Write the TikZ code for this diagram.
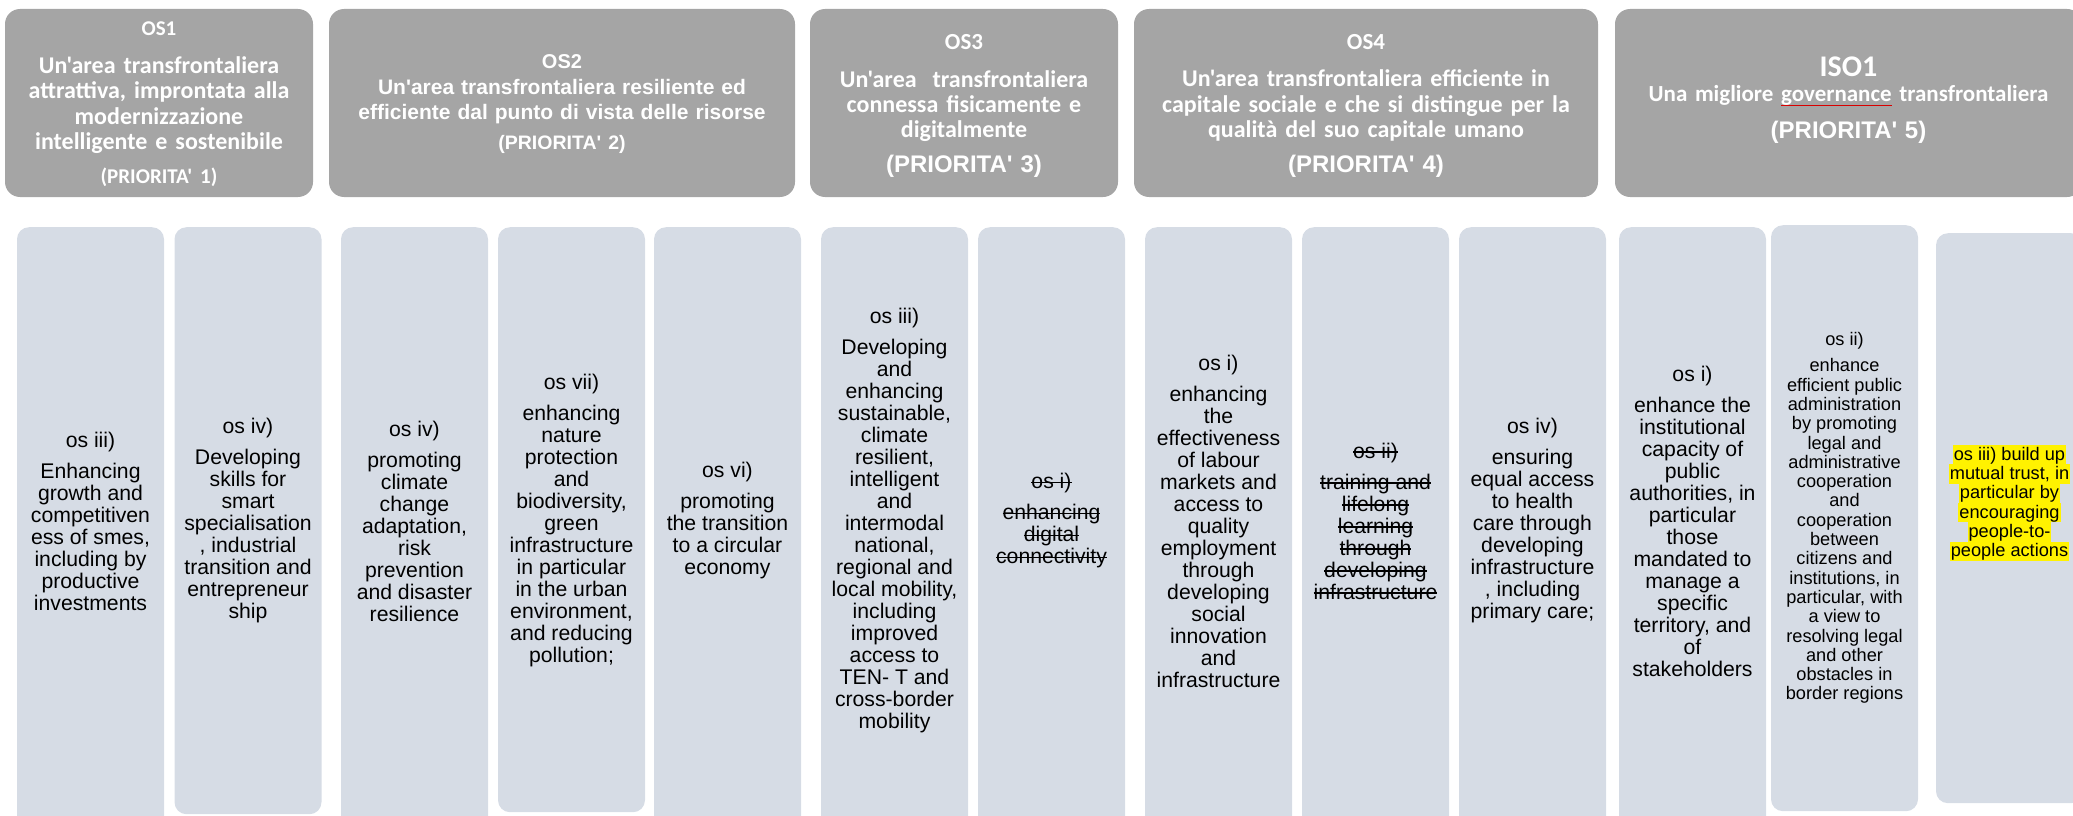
\documentclass[tikz,border=0pt]{standalone}
\usepackage{fontspec}
\setmainfont{Liberation Sans}
\newfontfamily\carlito{Carlito}
\newfontfamily\arialfont{Liberation Sans}

\definecolor{priogray}{HTML}{A5A5A5}
\definecolor{osblue}{HTML}{D6DCE5}

\newsavebox{\markbox}
\newcommand{\crossout}[1]{\sbox{\markbox}{#1}\rlap{\rule[0.26em]{\wd\markbox}{1.2pt}}\usebox{\markbox}}
\newcommand{\spellmark}[1]{\sbox{\markbox}{#1}\rlap{\textcolor{red!85!black}{\rule[-4pt]{\wd\markbox}{0.8pt}}}\usebox{\markbox}}
\newcommand{\yellowline}[1]{{\setlength{\fboxsep}{0pt}\colorbox{yellow}{\rule[-4.3pt]{0pt}{19.3pt}\kern1pt #1\kern1pt}}}

\begin{document}
\begin{tikzpicture}[x=1pt, y=-1pt, every node/.style={align=center}]

% styles
\tikzset{
  priobox/.style={rectangle, rounded corners=15pt, fill=priogray, inner sep=0pt, minimum height=188pt, minimum width=#1},
  priotext/.style={text=white, inner sep=0pt, text width=#1},
  osbox/.style={rectangle, rounded corners=12pt, fill=osblue, minimum width=147pt, inner sep=0pt, anchor=north},
  ostext/.style={inner sep=0pt, font=\arialfont\fontsize{21.2}{22}\selectfont},
  ossmall/.style={inner sep=0pt, font=\arialfont\fontsize{18.2}{19.3}\selectfont}
}

\useasboundingbox (0,0) rectangle (2073,816);
\clip (0,0) rectangle (2073,816);

% priority headers
\node[priobox=308pt] (os1) at (159,103) {};
\node[priobox=466pt] (os2) at (562,103) {};
\node[priobox=308pt] (os3) at (964,103) {};
\node[priobox=464pt] (os4) at (1366,103) {};
\node[priobox=467pt] (iso1) at (1848.5,103) {};

\node[priotext=308pt, font=\carlito\bfseries\fontsize{24}{25.5}\selectfont] (os1t) at (159,104) {{\fontsize{21}{25}\selectfont OS1}\\[12pt]
  Un'area transfrontaliera\\ attrattiva, improntata alla\\ modernizzazione\\ intelligente e sostenibile\\[8pt]
  {\fontsize{21}{25}\selectfont (PRIORITA' 1)}};
\node[priotext=466pt, font=\arialfont\bfseries\fontsize{21}{25.5}\selectfont] (os2t) at (562,104.2) {{\fontsize{20}{25}\selectfont OS2}\\
  Un'area transfrontaliera resiliente ed\\ efficiente dal punto di vista delle risorse\\[4.5pt]
  {\fontsize{19.5}{25}\selectfont (PRIORITA' 2)}};
\node[priotext=308pt, font=\carlito\bfseries\fontsize{24}{25}\selectfont] (os3t) at (964,106) {{\fontsize{23}{25}\selectfont OS3}\\[13pt]
  Un'area\ \ transfrontaliera\\ connessa fisicamente e\\ digitalmente\\[10pt]
  {\arialfont\fontsize{24}{25}\selectfont (PRIORITA' 3)}};
\node[priotext=464pt, font=\carlito\bfseries\fontsize{24}{25.5}\selectfont] (os4t) at (1366,106) {{\fontsize{23}{25}\selectfont OS4}\\[12pt]
  Un'area transfrontaliera efficiente in\\ capitale sociale e che si distingue per la\\ qualità del suo capitale umano\\[9.5pt]
  {\arialfont\fontsize{24}{25}\selectfont (PRIORITA' 4)}};
\node[priotext=467pt, font=\carlito\bfseries\fontsize{23}{25}\selectfont] (iso1t) at (1848.5,100.3) {{\fontsize{30}{25}\selectfont ISO1}\\
  Una migliore \spellmark{governance} transfrontaliera\\[12.5pt]
  {\arialfont\fontsize{24}{25}\selectfont (PRIORITA' 5)}};

% specific objective columns
\node[osbox, minimum height=608pt] (c1) at (90.5,227) {};
\node[osbox, minimum height=587pt] (c2) at (248,227) {};
\node[osbox, minimum height=608pt] (c3) at (414.5,227) {};
\node[osbox, minimum height=585pt] (c4) at (571.5,227) {};
\node[osbox, minimum height=608pt] (c5) at (727.5,227) {};
\node[osbox, minimum height=608pt] (c6) at (894.5,227) {};
\node[osbox, minimum height=608pt] (c7) at (1051.5,227) {};
\node[osbox, minimum height=608pt] (c8) at (1218.5,227) {};
\node[osbox, minimum height=608pt] (c9) at (1375.5,227) {};
\node[osbox, minimum height=608pt] (c10) at (1532.5,227) {};
\node[osbox, minimum height=608pt] (c11) at (1692.5,227) {};
\node[osbox, minimum height=586pt] (c12) at (1844.5,225) {};
\node[osbox, minimum height=570pt] (c13) at (2009.5,233) {};

% column texts
\node[ostext] (t1) at (90.5,521) {os iii)\\[9pt] Enhancing\\ growth and\\ competitiven\\ ess of smes,\\ including by\\ productive\\ investments};
\node[ostext] (t2) at (248,521) {os iv)\\[9pt] Developing\\ skills for\\ smart\\ specialisation\\ , industrial\\ transition and\\ entrepreneur\\ ship};
\node[ostext] (t3) at (414.5,521) {os iv)\\[9pt] promoting\\ climate\\ change\\ adaptation,\\ risk\\ prevention\\ and disaster\\ resilience};
\node[ostext] (t4) at (571.5,521) {os vii)\\[9pt] enhancing\\ nature\\ protection\\ and\\ biodiversity,\\ green\\ infrastructure\\ in particular\\ in the urban\\ environment,\\ and reducing\\ pollution;};
\node[ostext] (t5) at (727.5,521) {os vi)\\[9pt] promoting\\ the transition\\ to a circular\\ economy};
\node[ostext] (t6) at (894.5,521) {os iii)\\[9pt] Developing\\ and\\ enhancing\\ sustainable,\\ climate\\ resilient,\\ intelligent\\ and\\ intermodal\\ national,\\ regional and\\ local mobility,\\ including\\ improved\\ access to\\ TEN- T and\\ cross-border\\ mobility};
\node[ostext] (t7) at (1051.5,521) {\crossout{os i)}\\[9pt] \crossout{enhancing}\\ \crossout{digital}\\ \crossout{connectivity}};
\node[ostext] (t8) at (1218.5,521) {os i)\\[9pt] enhancing\\ the\\ effectiveness\\ of labour\\ markets and\\ access to\\ quality\\ employment\\ through\\ developing\\ social\\ innovation\\ and\\ infrastructure};
\node[ostext] (t9) at (1375.5,521) {\crossout{os ii)}\\[9pt] \crossout{training and}\\ \crossout{lifelong}\\ \crossout{learning}\\ \crossout{through}\\ \crossout{developing}\\ \crossout{infrastructure}};
\node[ostext] (t10) at (1532.5,521) {os iv)\\[9pt] ensuring\\ equal access\\ to health\\ care through\\ developing\\ infrastructure\\ , including\\ primary care;};
\node[ostext] (t11) at (1692.5,521) {os i)\\[9pt] enhance the\\ institutional\\ capacity of\\ public\\ authorities, in\\ particular\\ those\\ mandated to\\ manage a\\ specific\\ territory, and\\ of\\ stakeholders};
\node[ossmall] (t12) at (1844.5,518) {os ii)\\[7pt] enhance\\ efficient public\\ administration\\ by promoting\\ legal and\\ administrative\\ cooperation\\ and\\ cooperation\\ between\\ citizens and\\ institutions, in\\ particular, with\\ a view to\\ resolving legal\\ and other\\ obstacles in\\ border regions};
\node[ossmall] (t13) at (2009.5,503) {\yellowline{os iii) build up}\\ \yellowline{mutual trust, in}\\ \yellowline{particular by}\\ \yellowline{encouraging}\\ \yellowline{people-to-}\\ \yellowline{people actions}};

\end{tikzpicture}
\end{document}
